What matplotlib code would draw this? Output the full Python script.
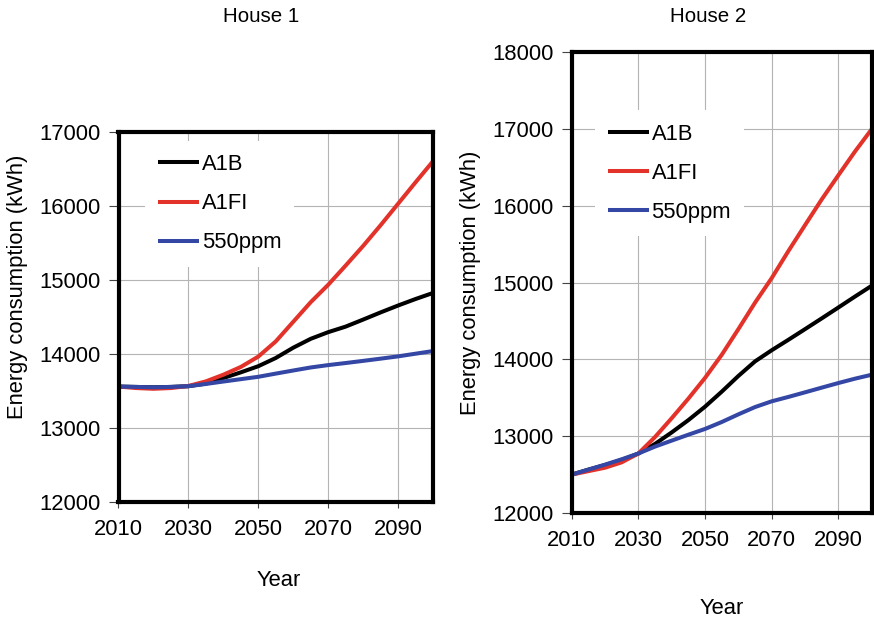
import matplotlib
matplotlib.use("Agg")
import matplotlib.pyplot as plt

plt.rcParams["font.family"] = ["Liberation Sans", "DejaVu Sans"]

# Simulated annual energy consumption (kWh) under three climate scenarios
years = [2010, 2015, 2020, 2025, 2030, 2035, 2040, 2045, 2050, 2055,
         2060, 2065, 2070, 2075, 2080, 2085, 2090, 2095, 2100]

house1_a1b = [13560, 13555, 13550, 13555, 13565, 13600, 13675, 13752, 13835, 13946,
              14085, 14205, 14295, 14370, 14465, 14562, 14655, 14743, 14825]
house1_a1fi = [13560, 13540, 13530, 13540, 13568, 13630, 13720, 13825, 13965, 14170,
               14435, 14700, 14935, 15195, 15460, 15740, 16030, 16320, 16605]
house1_550 = [13560, 13555, 13550, 13555, 13565, 13595, 13628, 13660, 13692, 13735,
              13777, 13818, 13850, 13878, 13907, 13937, 13968, 14004, 14040]

house2_a1b = [12500, 12565, 12625, 12690, 12775, 12900, 13050, 13210, 13385, 13580,
              13785, 13975, 14120, 14256, 14395, 14535, 14677, 14820, 14960]
house2_a1fi = [12500, 12545, 12590, 12660, 12775, 12990, 13235, 13490, 13760, 14060,
               14395, 14740, 15060, 15412, 15750, 16085, 16400, 16710, 17000]
house2_550 = [12500, 12565, 12630, 12700, 12775, 12865, 12943, 13020, 13095, 13185,
              13285, 13380, 13455, 13512, 13572, 13633, 13693, 13750, 13801]

scenario_names = ["A1B", "A1FI", "550ppm"]
scenario_colors = ["#000000", "#e2322a", "#3447a5"]

x_ticks = [2010, 2030, 2050, 2070, 2090]
house1_yticks = [12000, 13000, 14000, 15000, 16000, 17000]
house2_yticks = [12000, 13000, 14000, 15000, 16000, 17000, 18000]

FS = 15.8

fig = plt.figure(figsize=(8.74, 6.22), dpi=100)
ax1 = fig.add_axes([118.5 / 874, 1 - 502 / 622, 314.5 / 874, 370 / 622])
ax2 = fig.add_axes([571.7 / 874, 1 - 513 / 622, 300 / 874, 460.6 / 622])


def draw_panel(ax, series, yticks, legend_anchor, ylabel_xy, xlabel_xy):
    for values, name, color in zip(series, scenario_names, scenario_colors):
        ax.plot(years, values, color=color, lw=2.9, label=name,
                solid_capstyle="butt", solid_joinstyle="round")
    ax.set_xlim(2010, 2100)
    ax.set_ylim(yticks[0], yticks[-1])
    ax.set_xticks(x_ticks)
    ax.set_yticks(yticks)
    ax.grid(True, color="#b4b4b4", lw=0.8)
    ax.set_axisbelow(True)
    for sp in ax.spines.values():
        sp.set_linewidth(3.0)
        sp.set_color("black")
        sp.set_zorder(6)
    ax.tick_params(axis="y", direction="out", length=7.5, width=0.8,
                   color="#444444", pad=5.5, labelsize=FS)
    ax.tick_params(axis="x", direction="out", length=4.5, width=0.8,
                   color="#444444", pad=8, labelsize=FS)
    ax.set_ylabel("Energy consumption (kWh)", fontsize=FS)
    ax.yaxis.set_label_coords(*ylabel_xy)
    ax.yaxis.label.set_verticalalignment("center")
    ax.set_xlabel("Year", fontsize=FS)
    ax.xaxis.set_label_coords(*xlabel_xy)
    ax.xaxis.label.set_verticalalignment("center")
    leg = ax.legend(loc="upper left", bbox_to_anchor=legend_anchor,
                    borderaxespad=0, fontsize=FS, frameon=True,
                    fancybox=False, framealpha=1, edgecolor="none",
                    facecolor="white", handlelength=1.85, handletextpad=0.12,
                    labelspacing=0.83, borderpad=0.6)
    leg.set_zorder(3)
    for line in leg.get_lines():
        line.set_linewidth(2.9)


draw_panel(ax1, [house1_a1b, house1_a1fi, house1_550], house1_yticks,
           (0.085, 0.976), (-0.32, 0.582), (0.51, -0.211))
draw_panel(ax2, [house2_a1b, house2_a1fi, house2_550], house2_yticks,
           (0.078, 0.874), (-0.339, 0.499), (0.5, -0.207))

fig.text(261 / 874, 1 - 17 / 622, "House 1", fontsize=14.8, ha="center", va="center")
fig.text(708 / 874, 1 - 17 / 622, "House 2", fontsize=14.8, ha="center", va="center")

fig.savefig("out.png", dpi=100)
